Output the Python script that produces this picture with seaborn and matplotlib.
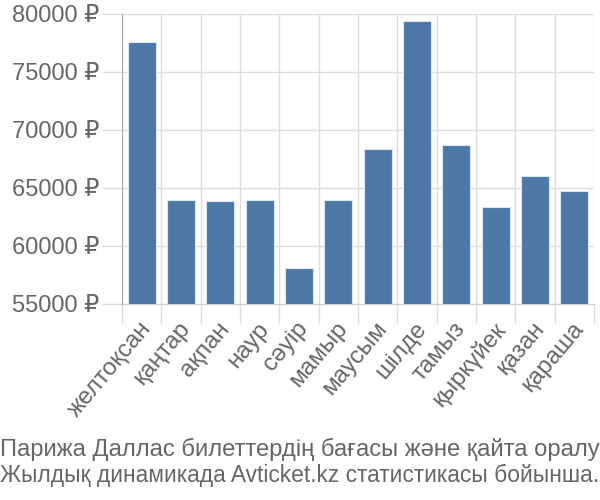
import matplotlib
matplotlib.use("Agg")
import matplotlib.pyplot as plt
import matplotlib.transforms as mtransforms
import seaborn as sns
import pandas as pd
import numpy as np

months = ["желтоқсан", "қаңтар", "ақпан", "наур", "сәуір", "мамыр",
          "маусым", "шілде", "тамыз", "қыркүйек", "қазан", "қараша"]
prices = [77600, 63940, 63850, 63940, 58100, 64000,
          68360, 79400, 68700, 63390, 66030, 64770]
yticks = [55000, 60000, 65000, 70000, 75000, 80000]
title_lines = ["Парижа Даллас билеттердің бағасы және қайта оралу",
               "Жылдық динамикада Avticket.kz статистикасы бойынша."]

sns.set_style("white")
plt.rcParams['font.family'] = ['Liberation Sans', 'DejaVu Sans']

df = pd.DataFrame({"month": months, "price": prices})

fig = plt.figure(figsize=(6, 5), dpi=100)
ax = fig.add_axes([122/600, (500-304)/500, 472/600, 290/500])

sns.barplot(data=df, x="month", y="price", color="#4c78a8", width=0.72,
            edgecolor="#dde6f0", linewidth=0.8, ax=ax, zorder=3, saturation=1)

ax.set_ylim(55000, 80000)
ax.set_xlim(-0.5, len(months) - 0.5)
ax.set_yticks(yticks)
ax.set_yticklabels([f"{v} ₽" for v in yticks], fontsize=17, color="#666666")
ax.set_xticks(range(len(months)))
ax.set_xticklabels(months, rotation=50, ha="right", rotation_mode="anchor",
                   fontsize=17.5, color="#666666")
ax.tick_params(axis="x", which="major", length=0, pad=10, bottom=True)
ax.set_xticks(np.arange(-0.5, len(months), 1), minor=True)
ax.tick_params(axis="x", which="minor", length=14, color="#dddddd", width=1, bottom=True)
ax.tick_params(axis="y", length=14.4, color="#dddddd", width=1, pad=2, left=True)
offset = mtransforms.ScaledTranslation(-3/100, 0, fig.dpi_scale_trans)
for lbl in ax.get_xticklabels():
    lbl.set_transform(lbl.get_transform() + offset)
ax.grid(True, which="minor", axis="x", color="#dddddd", linewidth=1, zorder=0)
ax.grid(True, which="major", axis="y", color="#dddddd", linewidth=1, zorder=0)
ax.set_xlabel("")
ax.set_ylabel("")
for s in ["top", "right"]:
    ax.spines[s].set_visible(False)
ax.spines["left"].set_color("#aaaaaa")
ax.spines["bottom"].set_color("#cccccc")
ax.spines["left"].set_zorder(4)

targets = [600, 598]
baselines = [456, 482]
renderer = fig.canvas.get_renderer()
for line, tw, yb in zip(title_lines, targets, baselines):
    t = fig.text(0.0, 1 - yb/500, line, fontsize=16, color="#666666",
                 va="baseline", ha="left")
    w = t.get_window_extent(renderer).width
    t.set_fontsize(16 * tw / w)

fig.savefig("out.png", dpi=100)
